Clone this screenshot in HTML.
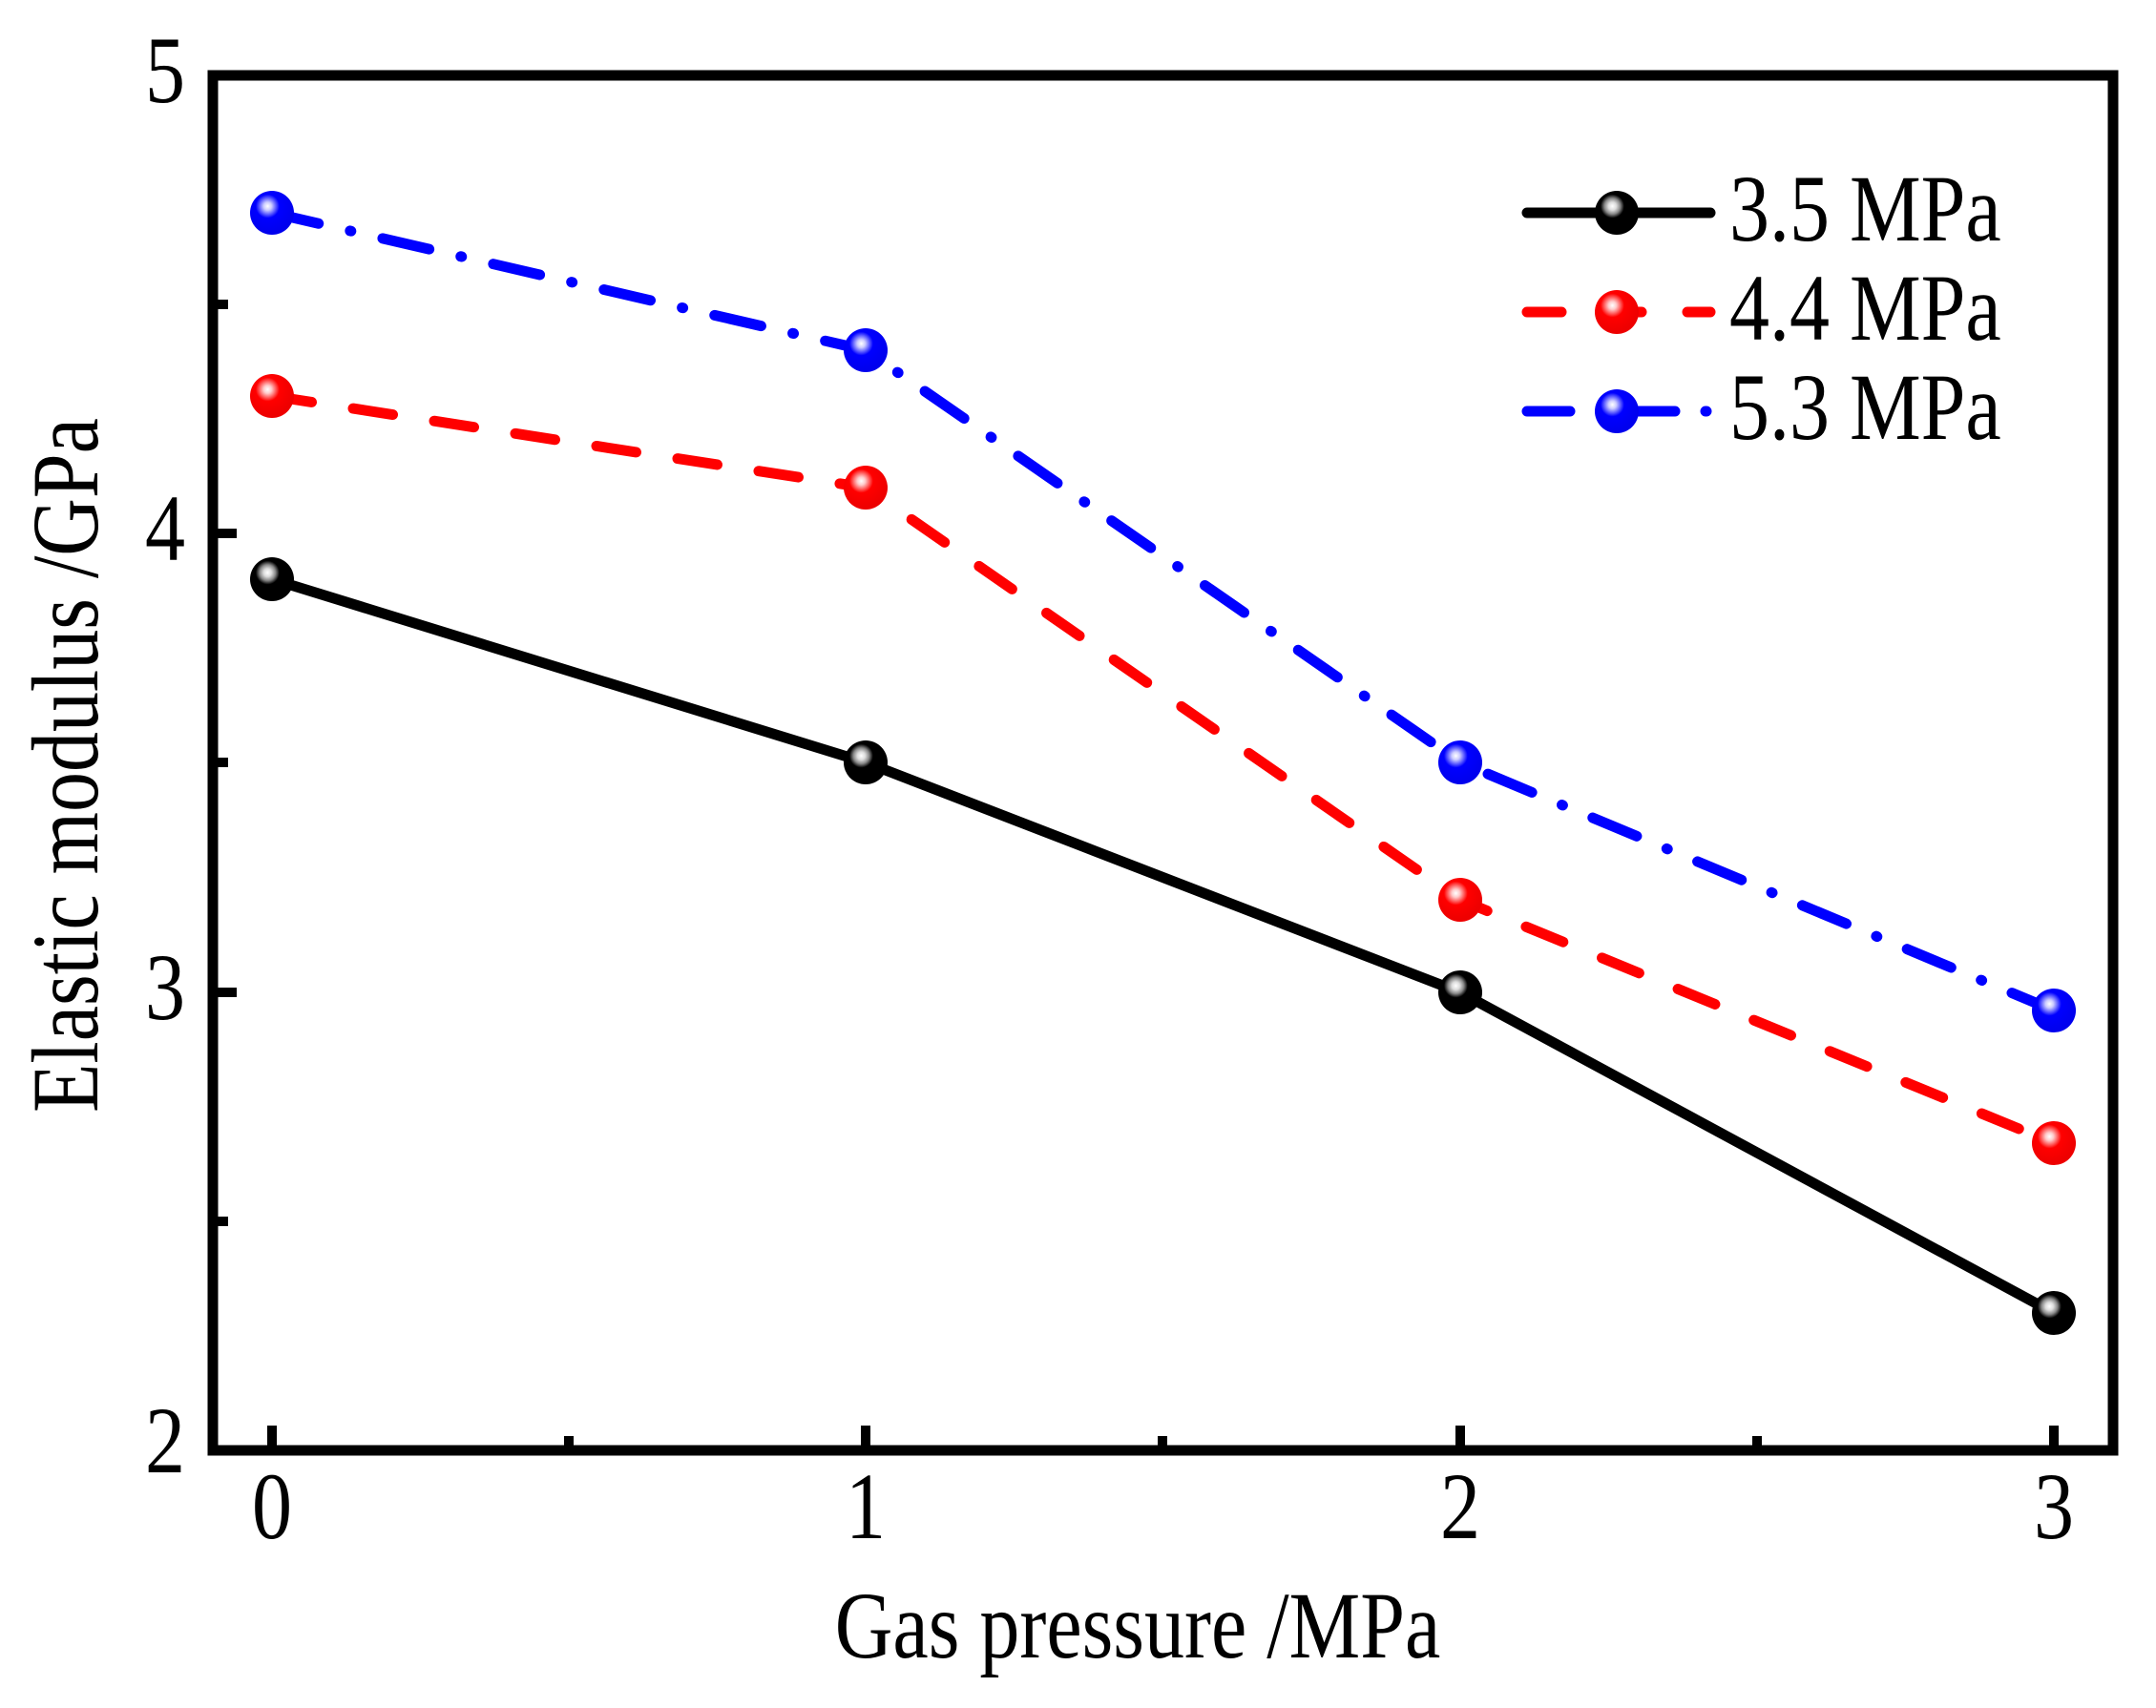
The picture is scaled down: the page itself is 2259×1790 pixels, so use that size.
<!DOCTYPE html>
<html><head><meta charset="utf-8"><style>
html,body{margin:0;padding:0;background:#fff;}
svg{display:block;}
text{font-family:"Liberation Serif",serif;fill:#000;}
</style></head><body>
<svg width="2259" height="1790" viewBox="0 0 2259 1790" xmlns="http://www.w3.org/2000/svg">
<defs>
<radialGradient id="gk" cx="0.4" cy="0.35" r="0.6"><stop offset="0" stop-color="#fff"/><stop offset="0.15" stop-color="#ddd"/><stop offset="0.3" stop-color="#888"/><stop offset="0.45" stop-color="#000"/><stop offset="1" stop-color="#000"/></radialGradient>
<radialGradient id="gr" cx="0.4" cy="0.35" r="0.6"><stop offset="0" stop-color="#fff"/><stop offset="0.15" stop-color="#fcc"/><stop offset="0.3" stop-color="#f66"/><stop offset="0.45" stop-color="#f00"/><stop offset="1" stop-color="#e00"/></radialGradient>
<radialGradient id="gb" cx="0.4" cy="0.35" r="0.6"><stop offset="0" stop-color="#fff"/><stop offset="0.15" stop-color="#ccf"/><stop offset="0.3" stop-color="#66f"/><stop offset="0.45" stop-color="#00f"/><stop offset="1" stop-color="#00e"/></radialGradient>
</defs>
<rect x="223" y="79" width="1991" height="1441" fill="none" stroke="#000" stroke-width="11"/>
<g stroke="#000" stroke-width="10">
<line x1="223" y1="559" x2="248" y2="559"/>
<line x1="223" y1="1040" x2="248" y2="1040"/>
<line x1="223" y1="319" x2="239" y2="319"/>
<line x1="223" y1="799" x2="239" y2="799"/>
<line x1="223" y1="1280" x2="239" y2="1280"/>
<line x1="285" y1="1520" x2="285" y2="1494"/>
<line x1="907" y1="1520" x2="907" y2="1494"/>
<line x1="1530" y1="1520" x2="1530" y2="1494"/>
<line x1="2152" y1="1520" x2="2152" y2="1494"/>
<line x1="596" y1="1520" x2="596" y2="1505"/>
<line x1="1218" y1="1520" x2="1218" y2="1505"/>
<line x1="1841" y1="1520" x2="1841" y2="1505"/>
</g>
<g font-size="84" text-anchor="end">
<text transform="translate(194,107) scale(1,1.18)">5</text>
<text transform="translate(194,587) scale(1,1.18)">4</text>
<text transform="translate(194,1068) scale(1,1.18)">3</text>
<text transform="translate(194,1543) scale(1,1.18)">2</text>
</g>
<g font-size="84" text-anchor="middle">
<text transform="translate(285,1612) scale(1,1.18)">0</text>
<text transform="translate(907,1612) scale(1,1.18)">1</text>
<text transform="translate(1530,1612) scale(1,1.18)">2</text>
<text transform="translate(2152,1612) scale(1,1.18)">3</text>
</g>
<text transform="translate(1192,1737) scale(1,1.18)" font-size="84" text-anchor="middle">Gas pressure /MPa</text>
<text transform="translate(102,802) rotate(-90) scale(1,1.18)" font-size="84" text-anchor="middle">Elastic modulus /GPa</text>
<g fill="none" stroke-width="11" stroke-linecap="round" stroke-linejoin="round">
<polyline stroke="#000" points="285,607 907,799 1530,1040 2152,1376"/>
<polyline stroke="#f00" stroke-dasharray="42 44" points="285,415 907,511 1530,943 2152,1198"/>
<polyline stroke="#00f" stroke-dasharray="50 34 1 34" points="285,223 907,367 1530,799 2152,1059"/>
</g>
<g>
<circle cx="285" cy="607" r="23" fill="url(#gk)"/><circle cx="907" cy="799" r="23" fill="url(#gk)"/><circle cx="1530" cy="1040" r="23" fill="url(#gk)"/><circle cx="2152" cy="1376" r="23" fill="url(#gk)"/>
<circle cx="285" cy="415" r="23" fill="url(#gr)"/><circle cx="907" cy="511" r="23" fill="url(#gr)"/><circle cx="1530" cy="943" r="23" fill="url(#gr)"/><circle cx="2152" cy="1198" r="23" fill="url(#gr)"/>
<circle cx="285" cy="223" r="23" fill="url(#gb)"/><circle cx="907" cy="367" r="23" fill="url(#gb)"/><circle cx="1530" cy="799" r="23" fill="url(#gb)"/><circle cx="2152" cy="1059" r="23" fill="url(#gb)"/>
</g>
<g fill="none" stroke-width="11" stroke-linecap="round">
<line x1="1600" y1="223" x2="1792" y2="223" stroke="#000"/>
<line x1="1600" y1="327" x2="1792" y2="327" stroke="#f00" stroke-dasharray="36 48"/>
<line x1="1600" y1="431" x2="1792" y2="431" stroke="#00f" stroke-dasharray="45 32 1 32"/>
</g>
<circle cx="1694" cy="223" r="23" fill="url(#gk)"/>
<circle cx="1694" cy="327" r="23" fill="url(#gr)"/>
<circle cx="1694" cy="431" r="23" fill="url(#gb)"/>
<g font-size="84">
<text transform="translate(1812,252) scale(1,1.18)">3.5 MPa</text>
<text transform="translate(1812,356) scale(1,1.18)">4.4 MPa</text>
<text transform="translate(1812,460) scale(1,1.18)">5.3 MPa</text>
</g>
</svg>
</body></html>
